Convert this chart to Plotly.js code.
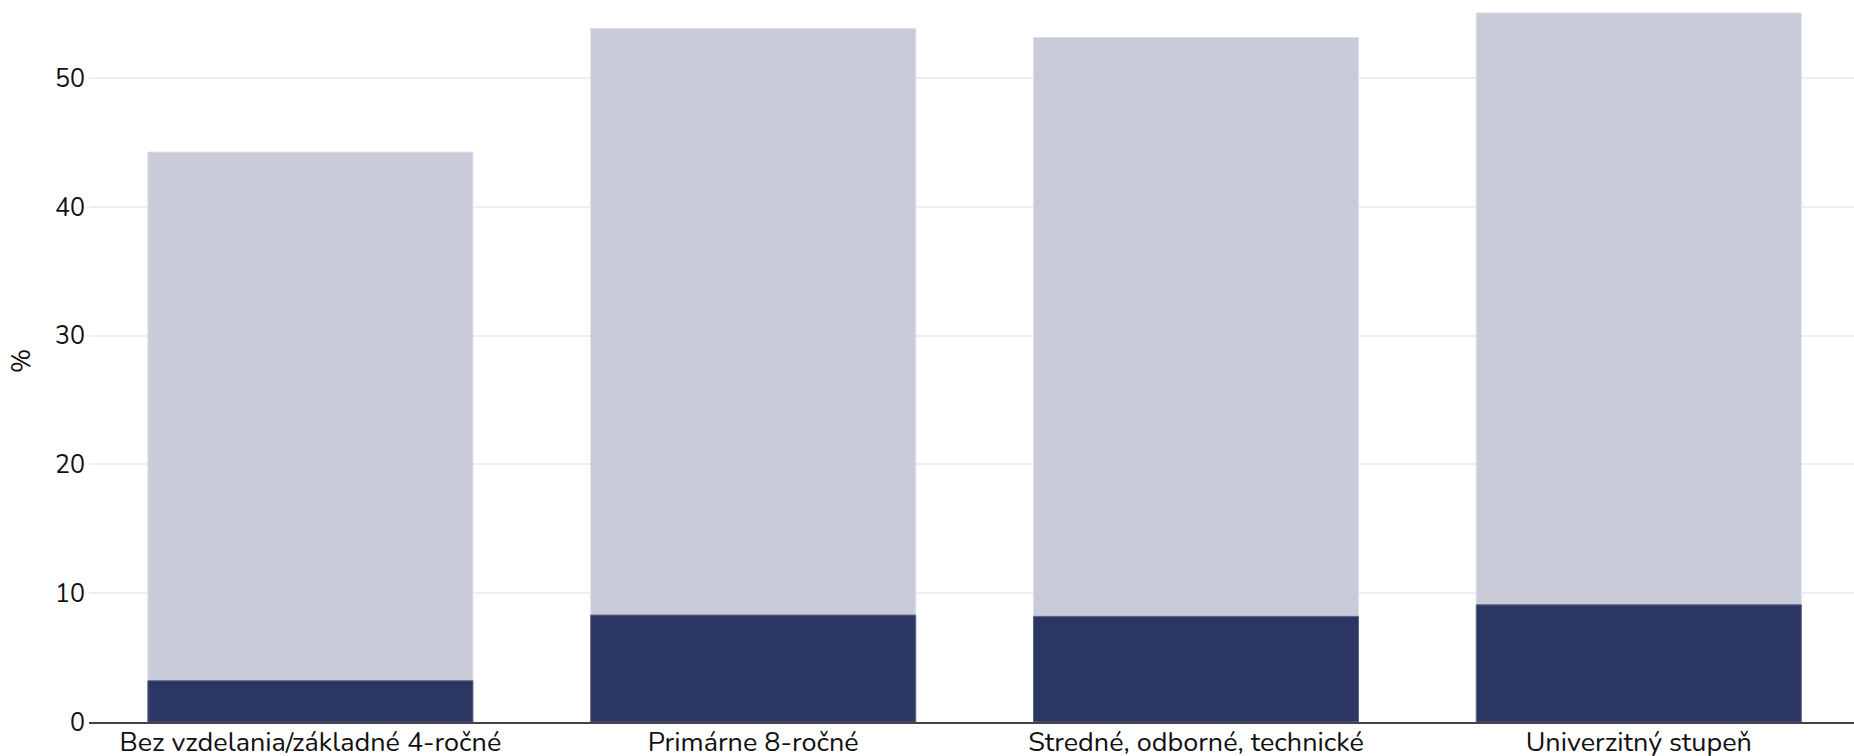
<!DOCTYPE html>
<html>
<head>
<meta charset="utf-8">
<script src="https://cdn.plot.ly/plotly-3.0.1.min.js"></script>
<style>
html,body{margin:0;padding:0;background:#fff;}
#chart{width:1854px;height:756px;}
</style>
</head>
<body>
<div id="chart"></div>
<script>
const categories = ["Bez vzdelania/základné 4-ročné", "Primárne 8-ročné", "Stredné, odborné, technické", "Univerzitný stupeň"];
const totalValues = [44.25, 53.85, 53.15, 55.05];
const subsetValues = [3.2, 8.3, 8.2, 9.1];
const yTicks = [0, 10, 20, 30, 40, 50];

const FONT = "Nunito, Lato, 'Open Sans', sans-serif";

const traces = [
  {
    type: "bar",
    x: categories,
    y: totalValues,
    marker: {color: "#c9ccd8", line: {width: 1, color: "#dcdee6"}},
    hoverinfo: "x+y",
    name: "celkom"
  },
  {
    type: "bar",
    x: categories,
    y: subsetValues,
    marker: {color: "#2b3663", line: {width: 1, color: "#5a6388"}},
    hoverinfo: "x+y",
    name: "podiel"
  }
];

const layout = {
  width: 1854,
  height: 756,
  margin: {l: 89, r: 0, t: 0, b: 34, pad: 0},
  paper_bgcolor: "#ffffff",
  plot_bgcolor: "#ffffff",
  barmode: "overlay",
  bargap: 0.266,
  showlegend: false,
  font: {family: FONT, size: 25, color: "#111111"},
  xaxis: {
    type: "category",
    range: [-0.5, 3.486],
    showgrid: false,
    showline: true,
    linecolor: "#444444",
    linewidth: 2,
    ticks: "",
    ticklabelstandoff: -5,
    tickfont: {family: FONT, size: 27, color: "#111111"},
    fixedrange: true
  },
  yaxis: {
    range: [0, 56.06],
    tickvals: yTicks,
    ticktext: yTicks.map(String),
    showgrid: true,
    gridcolor: "#eeeeee",
    gridwidth: 2,
    zeroline: false,
    showline: false,
    ticks: "",
    ticklabelstandoff: 3,
    tickfont: {family: FONT, size: 25, color: "#111111"},
    title: {text: "%", font: {family: FONT, size: 26, color: "#111111"}, standoff: 16},
    fixedrange: true
  }
};

Plotly.newPlot("chart", traces, layout, {displayModeBar: false, staticPlot: true});
</script>
</body>
</html>
